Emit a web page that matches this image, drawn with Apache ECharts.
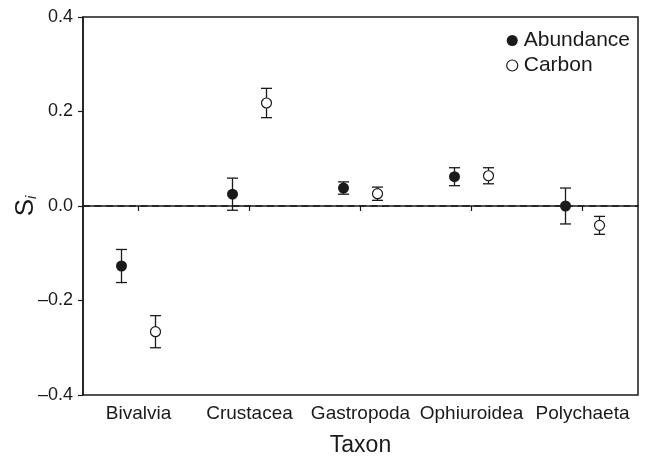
<!DOCTYPE html>
<html>
<head>
<meta charset="utf-8">
<script src="https://cdn.jsdelivr.net/npm/echarts@6/dist/echarts.min.js"></script>
<style>html,body{margin:0;padding:0;background:#fff;}#c{width:655px;height:457px;}</style>
</head>
<body>
<div id="c"></div>
<script>
const categories = ['Bivalvia', 'Crustacea', 'Gastropoda', 'Ophiuroidea', 'Polychaeta'];
const abundance = [-0.127, 0.025, 0.038, 0.062, 0.000];
const abundanceErr = [0.035, 0.034, 0.013, 0.019, 0.038];
const carbon = [-0.266, 0.218, 0.026, 0.064, -0.041];
const carbonErr = [0.034, 0.031, 0.014, 0.017, 0.019];
const yTicks = [-0.4, -0.2, 0.0, 0.2, 0.4];
const refLine = [0];

const OFF = 17;
const ink = '#1a1a1a';
const font = 'Liberation Sans, Arial, sans-serif';

function errData(vals, errs) {
  return vals.map((v, i) => [i, v - errs[i], v + errs[i]]);
}
function errSeries(name, vals, errs, off) {
  return {
    type: 'custom',
    name: name + 'err',
    data: errData(vals, errs),
    z: 2,
    silent: true,
    renderItem: function (params, api) {
      const lo = api.coord([api.value(0), api.value(1)]);
      const hi = api.coord([api.value(0), api.value(2)]);
      const x = lo[0] + off;
      const w = 5.5;
      const st = { stroke: ink, lineWidth: 1.3 };
      return {
        type: 'group',
        children: [
          { type: 'line', shape: { x1: x, y1: lo[1], x2: x, y2: hi[1] }, style: st },
          { type: 'line', shape: { x1: x - w, y1: lo[1], x2: x + w, y2: lo[1] }, style: st },
          { type: 'line', shape: { x1: x - w, y1: hi[1], x2: x + w, y2: hi[1] }, style: st }
        ]
      };
    }
  };
}

const chart = echarts.init(document.getElementById('c'), null, { renderer: 'canvas' });
chart.setOption({
  animation: false,
  backgroundColor: '#fff',
  textStyle: { fontFamily: font },
  grid: { left: 83, right: 17, top: 17, bottom: 62, containLabel: false, outerBoundsMode: 'none', show: true, borderColor: ink, borderWidth: 1.5, backgroundColor: 'transparent' },
  legend: {
    orient: 'vertical',
    right: 20, top: 25,
    itemWidth: 11, itemHeight: 11, itemGap: 4,
    data: [
      { name: 'Abundance', icon: 'circle', itemStyle: { color: ink, borderColor: ink, borderWidth: 0 } },
      { name: 'Carbon', icon: 'circle', itemStyle: { color: '#fff', borderColor: ink, borderWidth: 1.2 } }
    ],
    textStyle: { fontSize: 21, color: ink, fontFamily: font, padding: [0, 0, 0, 1] }
  },
  xAxis: {
    type: 'category',
    data: categories,
    boundaryGap: true,
    axisLine: { show: true, lineStyle: { color: ink, width: 1.5 } },
    axisTick: { show: true, alignWithLabel: true, length: 5, lineStyle: { color: ink, width: 1.2 } },
    axisLabel: { color: ink, fontSize: 19, margin: 9, fontFamily: font, interval: 0 },
    splitLine: { show: false },
    name: 'Taxon',
    nameLocation: 'middle',
    nameGap: 39,
    nameMoveOverlap: false,
    nameTextStyle: { fontSize: 23, color: ink, fontFamily: font }
  },
  yAxis: {
    type: 'value',
    min: -0.4, max: 0.4, interval: 0.2,
    axisLine: { show: true, lineStyle: { color: ink, width: 1.5 } },
    axisTick: { show: true, length: 5, lineStyle: { color: ink, width: 1.2 } },
    axisLabel: {
      color: ink, fontSize: 18, margin: 10, fontFamily: font,
      formatter: function (v) {
        const s = Math.abs(v).toFixed(1);
        return v < -1e-9 ? '\u2013' + s : s;
      }
    },
    splitLine: { show: false },
    name: '{s|S}{i|i}',
    nameLocation: 'middle',
    nameGap: 44,
    nameMoveOverlap: false,
    nameRotate: 90,
    nameTextStyle: {
      rich: {
        s: { fontSize: 26, color: ink, fontFamily: font },
        i: { fontSize: 15, color: ink, fontFamily: font, fontStyle: 'italic', verticalAlign: 'bottom', padding: [12, 0, 0, 0] }
      }
    }
  },
  series: [
    {
      type: 'custom', name: 'zero', silent: true, z: 1,
      data: refLine.map(v => [0, v]),
      renderItem: function (params, api) {
        const cs = params.coordSys;
        const y = api.coord([0, api.value(1)])[1];
        return {
          type: 'line',
          shape: { x1: cs.x, y1: y, x2: cs.x + cs.width, y2: y },
          style: { stroke: ink, lineWidth: 1.5, lineDash: [7, 4.5] }
        };
      }
    },
    errSeries('Abundance', abundance, abundanceErr, -OFF),
    errSeries('Carbon', carbon, carbonErr, OFF),
    {
      type: 'scatter', name: 'Abundance',
      data: abundance.map((v, i) => [i, v]),
      symbol: 'circle', symbolSize: 11, symbolOffset: [-OFF, 0], z: 5,
      itemStyle: { color: ink, borderColor: ink, borderWidth: 0, opacity: 1 }
    },
    {
      type: 'scatter', name: 'Carbon',
      data: carbon.map((v, i) => [i, v]),
      symbol: 'circle', symbolSize: 10, symbolOffset: [OFF, 0], z: 5,
      itemStyle: { color: '#fff', borderColor: ink, borderWidth: 1.2, opacity: 1 }
    }
  ]
});
</script>
</body>
</html>
